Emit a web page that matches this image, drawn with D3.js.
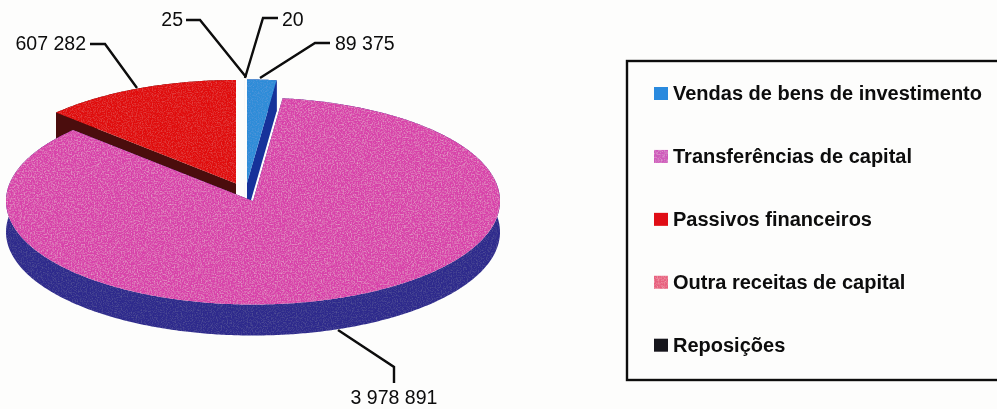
<!DOCTYPE html>
<html>
<head>
<meta charset="utf-8">
<style>html,body{margin:0;padding:0;background:#fdfdfc;overflow:hidden}svg{display:block}text{font-family:"Liberation Sans",Arial,sans-serif;fill:#0a0a0a}</style>
<script src="https://cdnjs.cloudflare.com/ajax/libs/d3/7.8.5/d3.min.js"></script>
</head>
<body>
<svg id="c" width="997" height="409"></svg>
<script>
const categories = ["Vendas de bens de investimento","Transferências de capital","Passivos financeiros","Outra receitas de capital","Reposições"];
const values = [89375,3978891,607282,25,20];
const topColors = ["#2e8cd8","#d842aa","#e00d0e","#e8607f","#1a1a22"];
const sideColors = ["#12309a","#2e2a8c","#4c0a0a","#a03050","#000000"];
const swatchColors = ["#2b8ade","#cf5abb","#e01015","#e8617f","#17151c"];

// layout (not data)
const centers = [[247,183],[253,201],[236,183.5],[245,183],[245,183]];
const rx = 247, ry = 103.5, depth = 31;
const drawOrder = [2,3,4,0,1];
const leaders = [
  [[278,18],[263,18],[245,78]],   // 20
  [[186,20],[200,20],[246,77]],   // 25
  [[330,43],[315,43],[260,78]],   // 89 375
  [[90,44],[105,44],[137,88]],    // 607 282
  [[338,330],[394,367],[394,383]] // 3 978 891
];
const labels = [
  {i:4,x:282,y:26,a:"start"},
  {i:3,x:183,y:26,a:"end"},
  {i:0,x:335,y:50,a:"start"},
  {i:2,x:86,y:50,a:"end"},
  {i:1,x:394,y:404,a:"middle"}
];

const svg = d3.select("#c");
const defs = svg.append("defs");
function grain(id,freq,amount){
  const f = defs.append("filter").attr("id",id).attr("x",0).attr("y",0).attr("width","100%").attr("height","100%");
  f.append("feTurbulence").attr("type","fractalNoise").attr("baseFrequency",freq).attr("numOctaves",2).attr("seed",4).attr("result","n");
  f.append("feColorMatrix").attr("in","n").attr("type","matrix")
   .attr("values",`0 0 0 0 1  0 0 0 0 1  0 0 0 0 1  ${amount} 0 0 0 ${-amount*0.44}`).attr("result","w");
  f.append("feComposite").attr("in","w").attr("in2","SourceGraphic").attr("operator","in").attr("result","c");
  f.append("feMerge").selectAll("feMergeNode").data(["SourceGraphic","c"]).join("feMergeNode").attr("in",d=>d);
}
grain("g1",0.7,0.65);
grain("g2",0.8,0.15);
defs.append("filter").attr("id","soft").attr("x",0).attr("y",0).attr("width","100%").attr("height","100%")
  .attr("filterUnits","userSpaceOnUse")
  .append("feGaussianBlur").attr("stdDeviation",0.35);

const root = svg.append("g").attr("filter","url(#soft)");
root.append("rect").attr("width",997).attr("height",409).attr("fill","#fdfdfc");

const arcs = d3.pie().sort(null).startAngle(0).endAngle(2*Math.PI)(values);
const line = d3.line();
const px = d3.scaleLinear().domain([-1,1]).range([-rx,rx]);
const py = d3.scaleLinear().domain([-1,1]).range([ry,-ry]);
function pt(c,a,dy=0){return [c[0]+px(Math.sin(a)),c[1]+py(Math.cos(a))+dy];}
function rim(c,a0,a1,dy=0){
  const n = Math.max(2,Math.ceil((a1-a0)/0.01));
  return d3.range(n+1).map(k=>pt(c,a0+(a1-a0)*k/n,dy));
}

const pie = root.append("g");
drawOrder.forEach(i=>{
  const d = arcs[i], c = centers[i];
  const filt = i===1 ? "url(#g1)" : (i===0||i===2 ? "url(#g2)" : null);
  const g = pie.append("g");
  const top = rim(c,d.startAngle,d.endAngle);
  const bottom = rim(c,d.startAngle,d.endAngle,depth);
  const side = g.append("g").attr("fill",sideColors[i]);
  side.append("path").attr("d",line([...top,...bottom.reverse()])+"Z");
  [d.startAngle,d.endAngle].forEach(a=>{
    const e = pt(c,a);
    side.append("path").attr("d",line([c,e,[e[0],e[1]+depth],[c[0],c[1]+depth]])+"Z");
  });
  if(i===1) side.attr("filter","url(#g2)");
  g.append("path").attr("d",line([c,...top])+"Z").attr("fill",topColors[i]).attr("filter",filt);
});

const fmt = d3.formatLocale({thousands:" ",grouping:[3],decimal:",",currency:["",""]}).format(",");
root.append("g").selectAll("path").data(leaders).join("path")
  .attr("d",d=>line(d)).attr("fill","none").attr("stroke","#0a0a0a").attr("stroke-width",2.4);
root.append("g").selectAll("text").data(labels).join("text")
  .attr("x",d=>d.x).attr("y",d=>d.y).attr("text-anchor",d=>d.a)
  .attr("font-size",19.5).text(d=>fmt(values[d.i]));

// legend
root.append("rect").attr("x",627).attr("y",61).attr("width",400).attr("height",319)
  .attr("fill","none").attr("stroke","#111").attr("stroke-width",2.4);
const rowY = d3.scalePoint().domain(categories).range([100,351.7]);
const leg = root.append("g").selectAll("g").data(categories).join("g");
leg.append("rect").attr("x",654).attr("y",d=>rowY(d)-13).attr("width",14).attr("height",13)
  .attr("fill",(d,i)=>swatchColors[i]).attr("filter",(d,i)=>i===1||i===3?"url(#g1)":null);
leg.append("text").attr("x",673).attr("y",d=>rowY(d)).attr("font-size",20).attr("font-weight",700)
  .text(d=>d);
</script>
</body>
</html>
